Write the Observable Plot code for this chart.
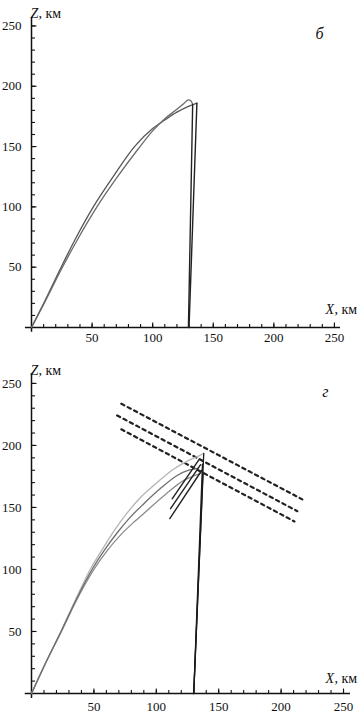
<!DOCTYPE html>
<html><head><meta charset="utf-8">
<script src="https://cdn.jsdelivr.net/npm/d3@7"></script>
<script src="https://cdn.jsdelivr.net/npm/@observablehq/plot@0.6"></script>
<style>
body{margin:0;background:#fff;}
#chart svg{display:block;}
#chart svg text{font-family:"Liberation Serif","DejaVu Serif",serif !important;}
</style></head><body><div id="chart"></div>
<script>
// ---- tick values ----
const xTickLabels = [50, 100, 150, 200, 250];
const zTickLabels = [50, 100, 150, 200, 250];
const minorTicks = [10,20,30,40,50,60,70,80,90,100,110,120,130,140,150,160,170,180,190,200,210,220,230,240,250];
const majorTicks = [50, 100, 150, 200, 250];

// ---- panel б : two ray paths ----
const bRayAX = [0, 11.5, 24, 38, 54, 71, 88, 100, 110, 120, 126, 129.5, 131.5, 133];
const bRayAZ = [0, 22, 47, 73, 100, 125, 148, 163, 173, 181, 186, 188.7, 188, 185];
const bRayBX = [0, 11, 23, 36, 51, 68, 85, 100, 110, 120, 130, 136.5];
const bRayBZ = [0, 22, 47, 73, 100, 126, 150, 165, 172, 178.5, 183.5, 186];
const bDownAX = [133, 129.5];
const bDownAZ = [185, 0];
const bDownBX = [136.5, 130];
const bDownBZ = [186, 0];

// ---- panel г : three ray paths ----
const gRay1X = [0, 11.5, 23.5, 35, 47, 56, 66, 77, 87.3, 100, 114, 126, 135, 138];
const gRay1Z = [0, 25, 50, 75, 100, 115, 131, 146, 158, 169.5, 181, 188, 192, 193.5];
const gRay2X = [0, 11.5, 23.7, 35.5, 48.5, 58, 69, 79, 90, 103, 116.7, 126, 133];
const gRay2Z = [0, 25, 50, 75, 100, 115, 130, 142, 153, 165, 175.8, 180, 181.5];
const gRay3X = [0, 11.5, 24, 36, 50, 60.5, 72, 83, 92.7, 108, 122, 130, 135.5];
const gRay3Z = [0, 25, 50, 75, 100, 115, 128.5, 139, 147.6, 161, 171.8, 175.5, 177.5];
// vertical lines from ground point to ray tops
const gVertStartX = [130, 130, 130];
const gVertStartZ = [0, 0, 0];
const gVertEndX = [138, 137, 137.5];
const gVertEndZ = [193.5, 185, 178];
// short straight segments
const gShortStartX = [112.7, 111.4, 110.8];
const gShortStartZ = [157, 149, 141];
const gShortEndX = [134.5, 135.5, 136.5];
const gShortEndZ = [189, 184.5, 180];
// dashed parallel lines
const gDashStartX = [72, 68.6, 72];
const gDashStartZ = [233.6, 224.2, 213];
const gDashEndX = [217, 213, 210.7];
const gDashEndZ = [156.5, 147, 138.7];

const rows = (xs, zs) => xs.map((x, i) => ({x, z: zs[i]}));
const segs = (x1, z1, x2, z2) => x1.flatMap((x, i) => [{id: i, x, z: z1[i]}, {id: i, x: x2[i], z: z2[i]}]);

const SERIF = "Liberation Serif, DejaVu Serif, serif";
const tickUp = (len) => ({draw(ctx){ ctx.moveTo(0, 0); ctx.lineTo(0, -len); }});
const tickRight = (len) => ({draw(ctx){ ctx.moveTo(0, 0); ctx.lineTo(len, 0); }});

function axisMarks(cfg) {
  return [
    Plot.ruleY([0], {x1: cfg.xAxisFrom, x2: cfg.xAxisTo, stroke: "#111", strokeWidth: 1.5}),
    Plot.ruleX([0], {y1: cfg.zAxisFrom, y2: cfg.zAxisTo, stroke: "#111", strokeWidth: 1.5}),
    Plot.dot(minorTicks, {x: d => d, y: 0, symbol: tickUp(3.5), fill: "none", stroke: "#111", strokeWidth: 1.1}),
    Plot.dot(majorTicks, {x: d => d, y: 0, symbol: tickUp(5), fill: "none", stroke: "#111", strokeWidth: 1.1}),
    Plot.dot(minorTicks, {x: 0, y: d => d, symbol: tickRight(3.5), fill: "none", stroke: "#111", strokeWidth: 1.1}),
    Plot.dot(majorTicks, {x: 0, y: d => d, symbol: tickRight(5), fill: "none", stroke: "#111", strokeWidth: 1.1}),
    Plot.text(xTickLabels, {x: d => d, y: 0, text: d => String(d), dy: cfg.xLabelDy, fontSize: 13, fontFamily: SERIF, fill: "#111"}),
    Plot.text(zTickLabels, {x: 0, y: d => d, text: d => String(d), dx: -10, textAnchor: "end", fontSize: 13, fontFamily: SERIF, fill: "#111"}),
    Plot.text(["Z"], {frameAnchor: "top-left", dx: -1, dy: cfg.zNameDy, textAnchor: "start", fontStyle: "italic", fontSize: 14, fontFamily: SERIF, fill: "#111"}),
    Plot.text([", км"], {frameAnchor: "top-left", dx: 7, dy: cfg.zNameDy, textAnchor: "start", fontSize: 14, fontFamily: SERIF, fill: "#111"}),
    Plot.text(["X"], {frameAnchor: "bottom-right", dx: cfg.xNameDx, dy: cfg.xNameDy, textAnchor: "start", fontStyle: "italic", fontSize: 14, fontFamily: SERIF, fill: "#111"}),
    Plot.text([", км"], {frameAnchor: "bottom-right", dx: cfg.xNameDx + 9, dy: cfg.xNameDy, textAnchor: "start", fontSize: 14, fontFamily: SERIF, fill: "#111"}),
    Plot.text([cfg.letter], {frameAnchor: "top-right", dx: cfg.letterDx, dy: cfg.letterDy, fontStyle: "italic", fontSize: 16, fontFamily: SERIF, fill: "#111"})
  ];
}

const panelB = Plot.plot({
  width: 361, height: 345,
  marginLeft: 31, marginRight: 21, marginTop: 17, marginBottom: 18,
  x: {domain: [0, 255], axis: null},
  y: {domain: [0, 257], axis: null},
  style: {background: "white", overflow: "visible"},
  marks: [
    ...axisMarks({xAxisFrom: -5, xAxisTo: 255, zAxisFrom: -4, zAxisTo: 257, xLabelDy: 10.5,
      zNameDy: -9, xNameDx: -15, xNameDy: -14, letter: "б", letterDx: -17, letterDy: 10}),
    Plot.line(rows(bRayBX, bRayBZ), {x: "x", y: "z", curve: "monotone-x", stroke: "#555", strokeWidth: 1.3}),
    Plot.line(rows(bRayAX, bRayAZ), {x: "x", y: "z", curve: "monotone-x", stroke: "#6a6a6a", strokeWidth: 1.3}),
    Plot.line(rows(bDownAX, bDownAZ), {x: "x", y: "z", stroke: "#222", strokeWidth: 1.4}),
    Plot.line(rows(bDownBX, bDownBZ), {x: "x", y: "z", stroke: "#222", strokeWidth: 1.4})
  ]
});

const panelG = Plot.plot({
  width: 361, height: 368,
  marginLeft: 31, marginRight: 11, marginTop: 28, marginBottom: 20,
  x: {domain: [0, 255.6], axis: null},
  y: {domain: [0, 258], axis: null},
  style: {background: "white", overflow: "visible"},
  marks: [
    ...axisMarks({xAxisFrom: -5, xAxisTo: 255.6, zAxisFrom: -4, zAxisTo: 258, xLabelDy: 13,
      zNameDy: -8, xNameDx: -25, xNameDy: -11, letter: "г", letterDx: -22, letterDy: 12}),
    Plot.line(segs(gDashStartX, gDashStartZ, gDashEndX, gDashEndZ), {x: "x", y: "z", z: "id", stroke: "#222", strokeWidth: 2.2, strokeDasharray: "3.4,3.8"}),
    Plot.line(rows(gRay1X, gRay1Z), {x: "x", y: "z", curve: "monotone-x", stroke: "#b4b4b4", strokeWidth: 1.3}),
    Plot.line(rows(gRay3X, gRay3Z), {x: "x", y: "z", curve: "monotone-x", stroke: "#8c8c8c", strokeWidth: 1.3}),
    Plot.line(rows(gRay2X, gRay2Z), {x: "x", y: "z", curve: "monotone-x", stroke: "#6e6e6e", strokeWidth: 1.3}),
    Plot.line(segs(gShortStartX, gShortStartZ, gShortEndX, gShortEndZ), {x: "x", y: "z", z: "id", stroke: "#222", strokeWidth: 1.4}),
    Plot.line(segs(gVertStartX, gVertStartZ, gVertEndX, gVertEndZ), {x: "x", y: "z", z: "id", stroke: "#1a1a1a", strokeWidth: 1.3})
  ]
});

document.getElementById("chart").append(panelB, panelG);
</script>
</body></html>
